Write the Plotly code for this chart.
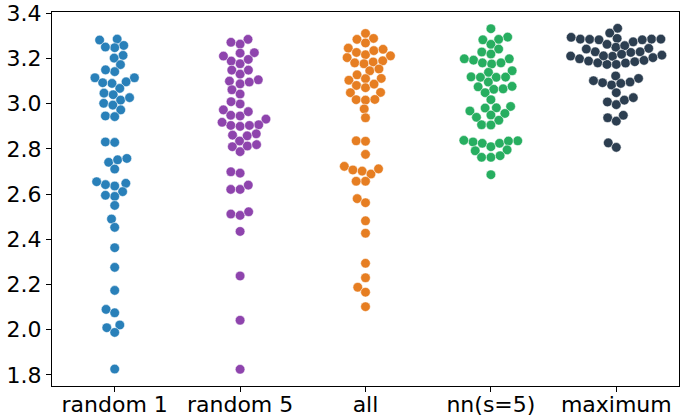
import numpy as np
import plotly.graph_objects as go

categories = ["random 1", "random 5", "all", "nn(s=5)", "maximum"]
colors = ["#2980b9", "#8e44ad", "#e67e22", "#27ae60", "#2c3e50"]

random1 = [3.286, 3.282, 3.258, 3.248, 3.251, 3.214, 3.202, 3.173, 3.142, 3.150,
           3.115, 3.115, 3.097, 3.090, 3.093, 3.068, 3.047, 3.040, 3.016, 3.027,
           3.002, 2.994, 2.973, 2.946, 2.943, 2.831, 2.829, 2.741, 2.752, 2.758,
           2.711, 2.648, 2.611, 2.636, 2.642, 2.655, 2.590, 2.595, 2.550, 2.490,
           2.453, 2.363, 2.276, 2.174, 2.090, 2.075, 2.009, 2.021, 1.988, 1.826]
random5 = [3.285, 3.264, 3.272, 3.226, 3.224, 3.189, 3.177, 3.196, 3.211, 3.149,
           3.131, 3.149, 3.106, 3.100, 3.088, 3.096, 3.062, 3.043, 2.999, 3.009,
           2.973, 2.949, 2.946, 2.965, 2.932, 2.907, 2.904, 2.900, 2.904, 2.918,
           2.867, 2.861, 2.858, 2.835, 2.810, 2.788, 2.813, 2.819, 2.699, 2.693,
           2.621, 2.621, 2.640, 2.512, 2.506, 2.522, 2.435, 2.238, 2.042, 1.825]
all_ = [3.311, 3.285, 3.289, 3.269, 3.246, 3.227, 3.217, 3.235, 3.241, 3.212,
        3.204, 3.181, 3.177, 3.185, 3.190, 3.146, 3.154, 3.128, 3.111, 3.104,
        3.112, 3.081, 3.071, 3.087, 3.049, 3.050, 3.018, 3.016, 3.019, 2.977,
        2.938, 2.836, 2.834, 2.776, 2.723, 2.707, 2.702, 2.689, 2.712, 2.657,
        2.657, 2.580, 2.562, 2.482, 2.427, 2.294, 2.230, 2.188, 2.166, 2.102]
nn_s5 = [3.332, 3.295, 3.283, 3.285, 3.263, 3.242, 3.229, 3.220, 3.199, 3.193,
         3.181, 3.176, 3.181, 3.199, 3.146, 3.139, 3.119, 3.117, 3.117, 3.118,
         3.096, 3.075, 3.064, 3.066, 3.077, 3.049, 3.018, 2.982, 2.981, 2.988,
         2.968, 2.957, 2.940, 2.950, 2.927, 2.907, 2.906, 2.836, 2.831, 2.825,
         2.810, 2.825, 2.835, 2.838, 2.792, 2.796, 2.763, 2.763, 2.770, 2.686]
maximum = [3.334, 3.313, 3.286, 3.286, 3.285, 3.283, 3.274, 3.289, 3.283, 3.294,
           3.286, 3.245, 3.230, 3.227, 3.250, 3.263, 3.230, 3.242, 3.257, 3.210,
           3.219, 3.215, 3.211, 3.199, 3.189, 3.181, 3.174, 3.174, 3.180, 3.186,
           3.192, 3.204, 3.212, 3.112, 3.096, 3.123, 3.083, 3.090, 3.093, 3.102,
           3.049, 3.008, 2.996, 3.016, 3.027, 2.938, 2.923, 2.949, 2.827, 2.807]
series = [random1, random5, all_, nn_s5, maximum]

y_ticks = [1.8, 2.0, 2.2, 2.4, 2.6, 2.8, 3.0, 3.2, 3.4]

# layout geometry
W, H = 680, 417
ML, MR, MT, MB = 52, 1, 12, 31
y_range = [1.751, 3.406]
x_range = [-0.5, 4.5]
plot_w = W - ML - MR
plot_h = H - MT - MB
px_per_x = plot_w / (x_range[1] - x_range[0])
px_per_y = plot_h / (y_range[1] - y_range[0])

R = 4.45          # swarm radius in px
HALF_WIDTH = 0.4  # gutter in data units


def beeswarm(values):
    vals = np.asarray(values, float)
    order = np.argsort(vals, kind="stable")
    ys = vals[order] * px_per_y
    swarm = [(0.0, ys[0], R)]
    for y_i in ys[1:]:
        neighbors = []
        for (xj, yj, rj) in reversed(swarm):
            if (y_i - yj) < (R + rj):
                neighbors.append((xj, yj, rj))
            else:
                break
        cands = [(0.0, y_i)]
        left_first = True
        for (xj, yj, rj) in neighbors:
            dy = y_i - yj
            dx = np.sqrt(max((R + rj) ** 2 - dy ** 2, 0)) * 1.05
            cl, cr = (xj - dx, y_i), (xj + dx, y_i)
            cands.extend([cl, cr] if left_first else [cr, cl])
            left_first = not left_first
        cands.sort(key=lambda c: abs(c[0]))
        chosen = cands[0]
        if neighbors:
            nb = np.array(neighbors)
            for c in cands:
                d2 = (nb[:, 0] - c[0]) ** 2 + (nb[:, 1] - c[1]) ** 2
                if np.all(d2 >= (nb[:, 2] + R) ** 2 - 1e-9):
                    chosen = c
                    break
        swarm.append((chosen[0], chosen[1], R))
    offs = np.array([s[0] for s in swarm]) / px_per_x
    offs = np.clip(offs, -HALF_WIDTH, HALF_WIDTH)
    out_off = np.empty_like(offs)
    out_off[order] = offs
    return out_off


fig = go.Figure()
for i, (name, vals, col) in enumerate(zip(categories, series, colors)):
    off = beeswarm(vals)
    fig.add_trace(go.Scatter(
        x=i + off, y=vals, mode="markers", name=name,
        marker=dict(size=9.6, color=col, line=dict(color="white", width=0.5)),
        showlegend=False, hoverinfo="y",
    ))

axis_font = dict(family="DejaVu Sans", size=22, color="black")
fig.update_layout(
    width=W, height=H,
    margin=dict(l=ML, r=MR, t=MT, b=MB, pad=0, autoexpand=False),
    plot_bgcolor="white", paper_bgcolor="white",
    font=axis_font,
)
fig.update_xaxes(
    range=x_range, tickmode="array", tickvals=list(range(len(categories))),
    ticktext=categories, showgrid=False, zeroline=False, automargin=False,
    showline=True, linecolor="black", linewidth=1, mirror=True,
    ticks="outside", ticklen=5, tickcolor="black", tickfont=axis_font,
    ticklabelstandoff=-6,
)
fig.update_yaxes(
    range=y_range, tickmode="array", tickvals=y_ticks, automargin=False,
    ticktext=[f"{t:.1f}" for t in y_ticks], showgrid=False, zeroline=False,
    showline=True, linecolor="black", linewidth=1, mirror=True,
    ticks="outside", ticklen=5, tickcolor="black", tickfont=axis_font,
)

fig.write_html(
    "out.html",
    config={"displayModeBar": False},
    post_script="document.body.style.margin='0';document.body.style.padding='0';",
)
